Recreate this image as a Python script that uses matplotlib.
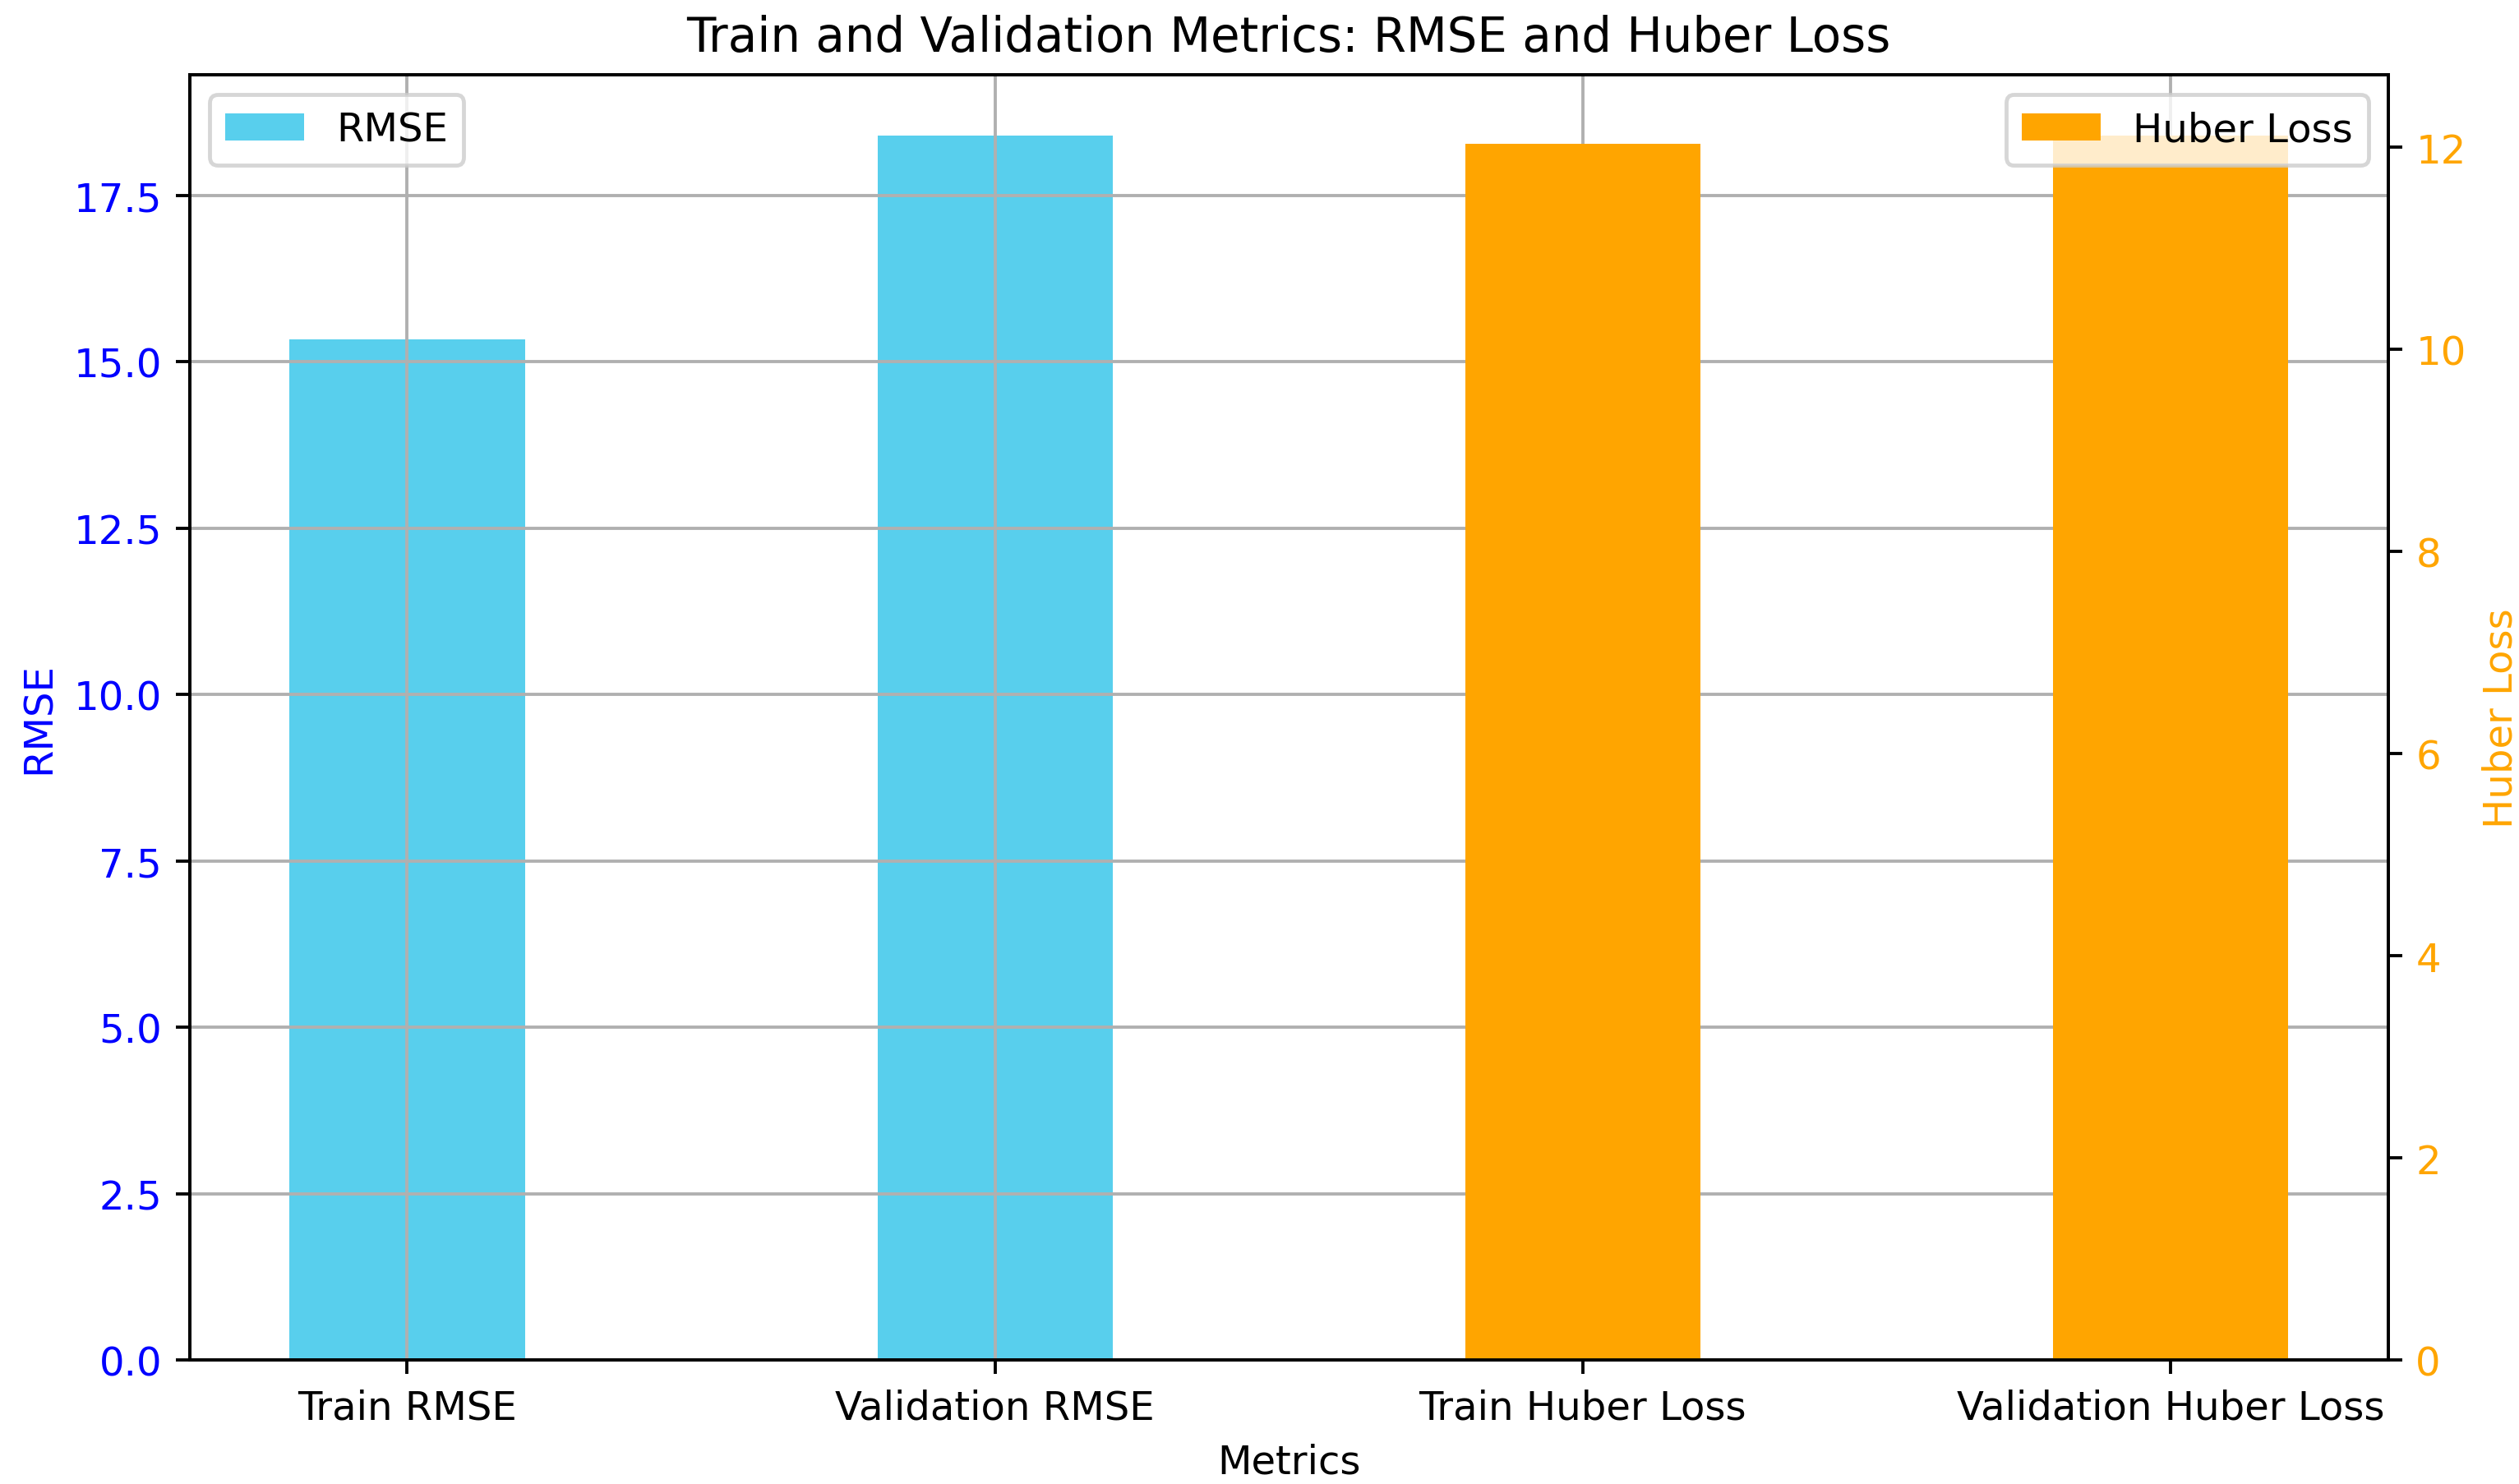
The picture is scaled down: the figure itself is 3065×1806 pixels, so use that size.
import matplotlib
matplotlib.use("Agg")
import matplotlib.pyplot as plt
import numpy as np

# 数据
metrics = ["Train RMSE", "Validation RMSE", "Train Huber Loss", "Validation Huber Loss"]
rmse_values = [15.33, 18.39]
huber_values = [12.03, 12.11]

rmse_color = "#58CFED"
huber_color = "orange"

# 创建画布，3066x1807 像素
DPI = 346.5
fig, ax1 = plt.subplots(figsize=(3066 / DPI, 1807 / DPI), dpi=DPI)

x = np.arange(len(metrics))
ax1.bar(x[:2], rmse_values, width=0.4, color=rmse_color, label="RMSE")
ax1.set_ylabel("RMSE", color="blue")
ax1.tick_params(axis="y", labelcolor="blue")
ax1.set_xlabel("Metrics")
ax1.set_xticks(x)
ax1.set_xticklabels(metrics)
ax1.grid(True)
ax1.legend(loc="upper left")

# 第二个 y 轴
ax2 = ax1.twinx()
ax2.bar(x[2:], huber_values, width=0.4, color=huber_color, label="Huber Loss")
ax2.set_ylabel("Huber Loss", color=huber_color)
ax2.tick_params(axis="y", labelcolor=huber_color)
ax2.legend(loc="upper right")

ax1.set_title("Train and Validation Metrics: RMSE and Huber Loss")

# 图像边缘位置
fig.subplots_adjust(left=0.0753, right=0.9477, top=0.9491, bottom=0.0833)

fig.savefig("out.png", dpi=DPI)
plt.close(fig)
